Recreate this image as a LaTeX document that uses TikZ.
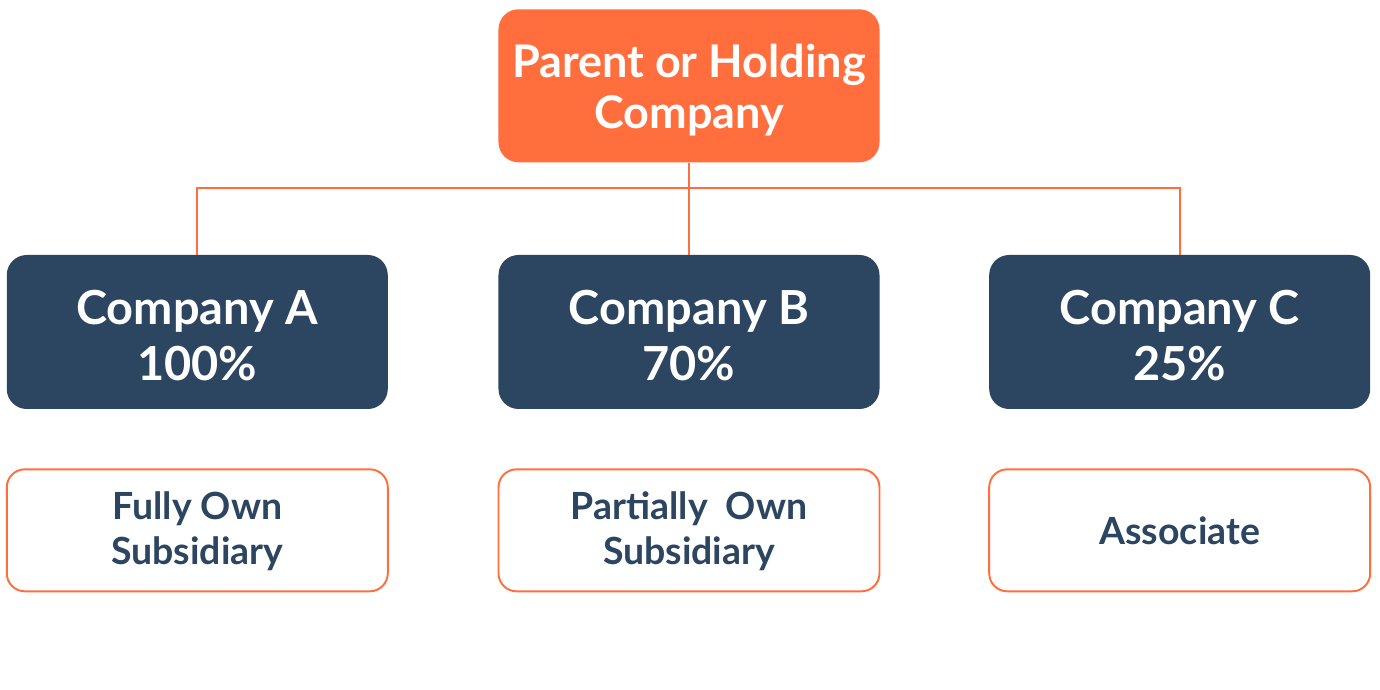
\documentclass[tikz,border=0pt]{standalone}
\usepackage{fontspec}
\setmainfont{Lato}
\usepackage{tikz}
\usetikzlibrary{positioning}
\definecolor{holdorange}{RGB}{255,110,60}
\definecolor{compnavy}{RGB}{44,69,96}
\newcommand{\lift}[1][24pt]{\rule{0pt}{#1}}
\tikzset{
  basebox/.style={rectangle, rounded corners=0.4cm, minimum width=7.62cm, align=center, inner sep=0pt},
  parentbox/.style={basebox, fill=holdorange, text=white, minimum height=3.06cm,
                    font=\fontsize{25.6}{28.9}\selectfont\bfseries},
  compbox/.style={basebox, fill=compnavy, text=white, minimum height=3.08cm,
                  font=\fontsize{26.7}{31.8}\selectfont\bfseries},
  typebox/.style={basebox, draw=holdorange, line width=1.1pt, fill=white, text=compnavy,
                  minimum height=2.44cm, rounded corners=0.36cm,
                  font=\fontsize{21.3}{25.5}\selectfont\bfseries},
  link/.style={draw=holdorange, line width=1.1pt},
}

\begin{document}
\begin{tikzpicture}
  \useasboundingbox (-13.78,-7.16) rectangle (13.82,6.64);

  \node[compbox] (compB) {\lift Company B\\70\%};
  \node[compbox] (compA) [left=2.2cm of compB] {\lift Company A\\100\%};
  \node[compbox] (compC) [right=2.18cm of compB] {\lift Company C\\25\%};
  \node[parentbox] (parent) [above=1.84cm of compB] {\lift Parent or Holding\\Company};

  \node[typebox] (typeA) [below=1.18cm of compA] {\lift[17pt]Fully Own\\Subsidiary};
  \node[typebox] (typeB) [below=1.18cm of compB] {\lift[17pt]Partially~ Own\\Subsidiary};
  \node[typebox] (typeC) [below=1.18cm of compC] {Associate};

  \draw[link] (parent.south) -- (compB.north);
  \draw[link] (compA.north) -- ++(0,1.34) -| (compC.north);

\end{tikzpicture}
\end{document}
